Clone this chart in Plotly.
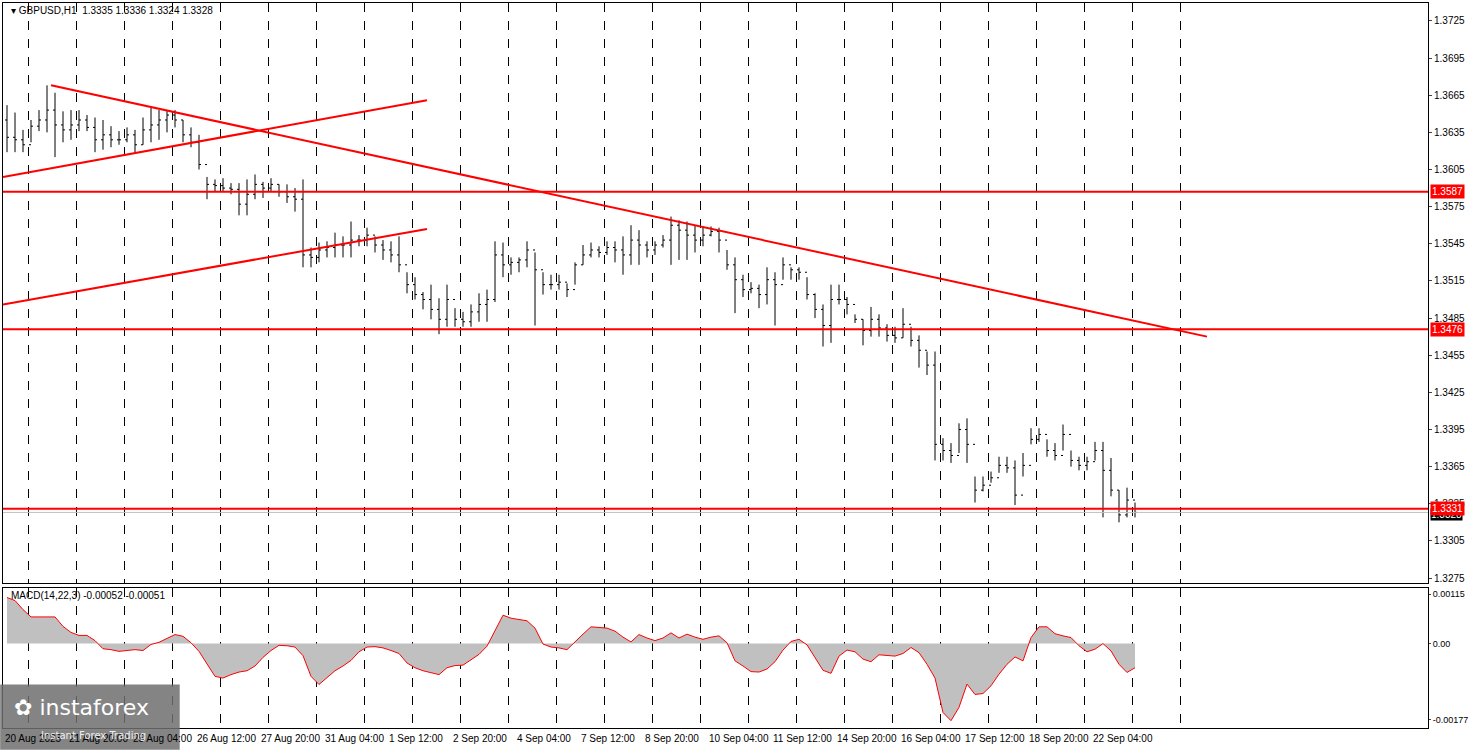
import plotly.graph_objects as go

# ---------------- data (4-hour aggregated bars) ----------------
highs = [1.3657,1.3651,1.3637,1.3645,1.3653,1.3673,1.3667,1.3652,1.3653,1.3653,
         1.3649,1.3647,1.3645,1.3640,1.3636,1.3639,1.3637,1.3647,1.3656,1.3653,
         1.3653,1.3653,1.3645,1.3639,1.3633,1.3599,1.3597,1.3598,1.3594,1.3594,
         1.3597,1.3601,1.3595,1.3598,1.3593,1.3593,1.3590,1.3597,1.3542,1.3546,
         1.3547,1.3554,1.3551,1.3563,1.3552,1.3558,1.3551,1.3548,1.3547,1.3551,
         1.3522,1.3518,1.3506,1.3512,1.3501,1.3512,1.3493,1.3490,1.3496,1.3505,
         1.3508,1.3547,1.3546,1.3534,1.3534,1.3547,1.3538,1.3522,1.3520,1.3520,
         1.3513,1.3530,1.3544,1.3546,1.3543,1.3547,1.3547,1.3551,1.3560,1.3556,
         1.3547,1.3547,1.3552,1.3567,1.3564,1.3563,1.3560,1.3559,1.3559,1.3558,
         1.3540,1.3534,1.3520,1.3514,1.3512,1.3526,1.3522,1.3534,1.3526,1.3526,
         1.3518,1.3505,1.3496,1.3512,1.3512,1.3502,1.3488,1.3484,1.3494,1.3488,
         1.3480,1.3478,1.3493,1.3478,1.3471,1.3458,1.3458,1.3388,1.3384,1.3400,
         1.3404,1.3357,1.3357,1.3361,1.3373,1.3373,1.3370,1.3376,1.3396,1.3396,
         1.3387,1.3384,1.3399,1.3378,1.3373,1.3373,1.3385,1.3385,1.3372,1.3346,
         1.3348,1.3336]
lows = [1.3619,1.3619,1.3619,1.3627,1.3636,1.3635,1.3615,1.3627,1.3629,1.3636,
        1.3636,1.3619,1.3621,1.3623,1.3625,1.3627,1.3619,1.3625,1.3627,1.3629,
        1.3635,1.3639,1.3627,1.3623,1.3605,1.3581,1.3587,1.3587,1.3585,1.3568,
        1.3568,1.3581,1.3582,1.3587,1.3583,1.3578,1.3571,1.3526,1.3526,1.3530,
        1.3534,1.3534,1.3534,1.3534,1.3543,1.3543,1.3538,1.3532,1.3530,1.3522,
        1.3505,1.3500,1.3492,1.3484,1.3472,1.3478,1.3478,1.3478,1.3478,1.3482,
        1.3482,1.3498,1.3518,1.3520,1.3522,1.3526,1.3479,1.3504,1.3508,1.3508,
        1.3502,1.3512,1.3528,1.3534,1.3534,1.3536,1.3530,1.3520,1.3528,1.3528,
        1.3534,1.3536,1.3542,1.3528,1.3532,1.3532,1.3538,1.3543,1.3551,1.3538,
        1.3524,1.3489,1.3502,1.3505,1.3493,1.3496,1.3479,1.3516,1.3516,1.3516,
        1.3500,1.3485,1.3462,1.3465,1.3496,1.3488,1.3481,1.3463,1.3470,1.3470,
        1.3466,1.3465,1.3469,1.3462,1.3445,1.3439,1.3370,1.3370,1.3368,1.3376,
        1.3368,1.3336,1.3345,1.3352,1.3360,1.3360,1.3334,1.3357,1.3383,1.3385,
        1.3373,1.3370,1.3378,1.3365,1.3362,1.3362,1.3370,1.3324,1.3341,1.3320,
        1.3324,1.3324]
closes = [1.3631,1.3629,1.3625,1.3640,1.3645,1.3653,1.3641,1.3637,1.3641,1.3645,
          1.3639,1.3629,1.3633,1.3629,1.3629,1.3633,1.3625,1.3637,1.3641,1.3645,
          1.3649,1.3645,1.3633,1.3627,1.3609,1.3593,1.3592,1.3590,1.3589,1.3577,
          1.3585,1.3593,1.3590,1.3593,1.3587,1.3583,1.3581,1.3536,1.3534,1.3540,
          1.3542,1.3544,1.3544,1.3548,1.3548,1.3552,1.3544,1.3540,1.3536,1.3528,
          1.3512,1.3504,1.3500,1.3492,1.3484,1.3500,1.3484,1.3482,1.3490,1.3496,
          1.3500,1.3536,1.3528,1.3530,1.3532,1.3540,1.3524,1.3512,1.3512,1.3514,
          1.3508,1.3528,1.3536,1.3540,1.3538,1.3542,1.3540,1.3536,1.3548,1.3544,
          1.3540,1.3544,1.3548,1.3560,1.3556,1.3552,1.3548,1.3552,1.3555,1.3548,
          1.3528,1.3516,1.3508,1.3509,1.3504,1.3516,1.3512,1.3528,1.3524,1.3522,
          1.3504,1.3492,1.3479,1.3500,1.3500,1.3496,1.3484,1.3475,1.3484,1.3477,
          1.3471,1.3469,1.3480,1.3467,1.3459,1.3447,1.3383,1.3378,1.3374,1.3395,
          1.3383,1.3346,1.3350,1.3356,1.3366,1.3364,1.3342,1.3366,1.3387,1.3391,
          1.3378,1.3374,1.3391,1.3370,1.3366,1.3369,1.3378,1.3362,1.3346,1.3326,
          1.3338,1.3328]
first_open = 1.3645

# MACD(14,22,3) values in units of 1e-5
macd_e5 = [107,100,79,62,62,62,62,40,26,19,19,7,-12,-14,-18,-16,-14,-16,-2,3,
           12,21,17,2,-18,-47,-76,-80,-72,-66,-63,-52,-32,-16,-4,-5,-8,-28,-76,-95,
           -80,-63,-52,-39,-19,-8,-7,-10,-16,-23,-45,-56,-63,-67,-72,-56,-51,-50,-37,-25,
           -6,29,66,59,56,53,36,-1,-8,-10,-14,5,22,39,38,36,29,15,4,21,
           13,7,13,25,13,22,15,10,15,18,2,-40,-52,-65,-66,-59,-42,-15,5,10,
           -3,-32,-62,-69,-29,-15,-19,-36,-42,-26,-27,-29,-23,-9,-21,-48,-80,-160,-179,-148,
           -94,-118,-116,-98,-71,-48,-31,-40,14,39,39,23,18,14,-5,-19,-13,0,-17,-48,
           -67,-56]

levels = [1.3587, 1.3476, 1.3331]
# trend lines: (start hour, start price, end hour, end price)
trend_lines = [(24, 1.3673, 602, 1.3470),
               (0, 1.3599, 212, 1.3661),
               (0, 1.3496, 212, 1.3557)]

time_labels = ["20 Aug 2025", "21 Aug 20:00", "25 Aug 04:00", "26 Aug 12:00",
               "27 Aug 20:00", "31 Aug 04:00", "1 Sep 12:00", "2 Sep 20:00", "4 Sep 04:00",
               "7 Sep 12:00", "8 Sep 20:00", "10 Sep 04:00", "11 Sep 12:00", "14 Sep 20:00",
               "16 Sep 04:00", "17 Sep 12:00", "18 Sep 20:00", "22 Sep 04:00"]
price_ticks = [1.3275, 1.3305, 1.3335, 1.3365, 1.3395, 1.3425, 1.3455, 1.3485, 1.3515,
               1.3545, 1.3575, 1.3605, 1.3635, 1.3665, 1.3695, 1.3725]
macd_ticks = [0.00115, 0.0, -0.00177]
macd_tick_text = ["0.00115", "0.00", "-0.00177"]

# ---------------- figure ----------------
n = len(closes)
xs = [4 * i + 2 for i in range(n)]
opens = [first_open] + closes[:-1]
macd = [v * 1e-5 for v in macd_e5]
FONT = "DejaVu Sans"
TFONT = "Liberation Sans"

fig = go.Figure()
fig.add_trace(go.Ohlc(x=xs, open=opens, high=highs, low=lows, close=closes,
                      increasing=dict(line=dict(color="black", width=1)),
                      decreasing=dict(line=dict(color="black", width=1)),
                      tickwidth=0.25, xaxis="x", yaxis="y", hoverinfo="skip"))
for (h0, p0, h1, p1) in trend_lines:
    fig.add_trace(go.Scatter(x=[h0, h1], y=[p0, p1], mode="lines",
                             line=dict(color="#ff0000", width=2), xaxis="x", yaxis="y"))
fig.add_trace(go.Scatter(x=xs, y=macd, mode="lines", fill="tozeroy",
                         fillcolor="#c0c0c0", line=dict(width=0, color="#c0c0c0"),
                         xaxis="x2", yaxis="y2"))
fig.add_trace(go.Scatter(x=xs, y=macd, mode="lines", line=dict(color="#ff0000", width=1),
                         xaxis="x2", yaxis="y2"))

shapes = []
for lv in levels:
    shapes.append(dict(type="line", xref="x", yref="y", x0=-2, x1=712.5, y0=lv, y1=lv,
                       line=dict(color="#ff0000", width=2)))
shapes.append(dict(type="line", xref="x", yref="y", x0=-2, x1=712.5, y0=closes[-1], y1=closes[-1],
                   line=dict(color="#c0c0c0", width=1)))
# watermark box
shapes.append(dict(type="rect", xref="paper", yref="paper", x0=-0.002, x1=0.124, y0=-0.03, y1=0.06,
                   fillcolor="rgba(110,110,110,0.85)", line=dict(width=0), layer="above"))

ann = []
for j, t in enumerate(time_labels):
    ann.append(dict(x=32 * j, y=-0.004, xref="x2", yref="paper", text=t, showarrow=False,
                    xanchor="left", yanchor="top", font=dict(family=TFONT, size=10, color="black")))
ann.append(dict(x=1.0, y=closes[-1], xref="paper", yref="y", text=f"{closes[-1]:.4f}",
                showarrow=False, xanchor="left", yanchor="top", xshift=2, yshift=4,
                bgcolor="black", font=dict(family=TFONT, size=10, color="white"), borderpad=0))
for lv in levels:
    ann.append(dict(x=1.0, y=lv, xref="paper", yref="y", text=f"{lv:.4f}", showarrow=False,
                    xanchor="left", yanchor="middle", xshift=2, bgcolor="#ff0000",
                    font=dict(family=TFONT, size=10, color="white"), borderpad=1))
ann.append(dict(x=0.004, y=1.0, xref="paper", yref="paper",
                text="▾ GBPUSD,H1  1.3335 1.3336 1.3324 1.3328", showarrow=False,
                xanchor="left", yanchor="top", font=dict(family=TFONT, size=10, color="black")))
ann.append(dict(x=0.004, y=0.193, xref="paper", yref="paper",
                text="MACD(14,22,3) -0.00052 -0.00051", showarrow=False,
                xanchor="left", yanchor="top", font=dict(family=TFONT, size=10, color="black")))
ann.append(dict(x=0.006, y=0.048, xref="paper", yref="paper", text="✿ instaforex", showarrow=False,
                xanchor="left", yanchor="top", font=dict(family=FONT, size=22, color="white")))
ann.append(dict(x=0.025, y=0.0, xref="paper", yref="paper", text="Instant Forex Trading",
                showarrow=False, xanchor="left", yanchor="top",
                font=dict(family=FONT, size=10, color="#eeeeee")))

grid_vals = [12.5 + 24 * j for j in range(25)]
axis_common = dict(showline=True, mirror=True, linecolor="black", linewidth=1, zeroline=False,
                   automargin=False)

fig.update_layout(
    width=1468, height=750, margin=dict(l=3, r=40, t=3, b=22),
    paper_bgcolor="white", plot_bgcolor="white", showlegend=False,
    font=dict(family=TFONT, size=10, color="black"),
    xaxis=dict(domain=[0, 1], range=[0, 712.5], anchor="y", tickvals=grid_vals,
               showticklabels=False, showgrid=True, gridcolor="black", griddash="dash",
               gridwidth=1, rangeslider=dict(visible=False), ticks="", **axis_common),
    yaxis=dict(domain=[0.2, 1], range=[1.3271, 1.37395], side="right", tickvals=price_ticks,
               ticktext=[f"{p:.4f}" for p in price_ticks], ticks="outside", ticklen=3,
               showgrid=False, anchor="x", tickfont=dict(family=TFONT, size=10), **axis_common),
    xaxis2=dict(domain=[0, 1], range=[0, 712.5], anchor="y2", tickvals=grid_vals,
                showticklabels=False, showgrid=True, gridcolor="black", griddash="dash",
                gridwidth=1, ticks="", **axis_common),
    yaxis2=dict(domain=[0, 0.193], range=[-0.00196, 0.00129], side="right", tickvals=macd_ticks,
                ticktext=macd_tick_text, ticks="outside", ticklen=2, showgrid=False,
                anchor="x2", tickfont=dict(family=TFONT, size=9), **axis_common),
    shapes=shapes, annotations=ann,
)
fig.write_html("out.html", config={"displayModeBar": False},
               post_script="document.body.style.margin='0';document.body.style.overflow='hidden';")
